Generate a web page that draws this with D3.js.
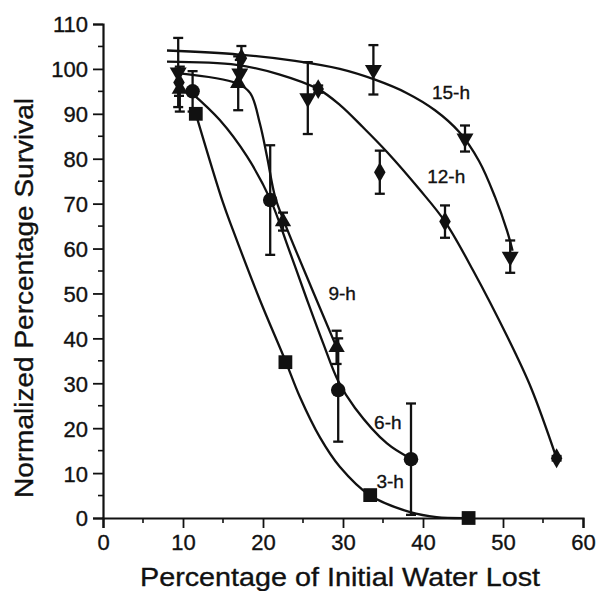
<!DOCTYPE html>
<html>
<head>
<meta charset="utf-8">
<script src="https://cdn.jsdelivr.net/npm/d3@7"></script>
<style>
  html, body { margin: 0; padding: 0; background: #fff; }
  svg { display: block; }
  text { font-family: "Liberation Sans", Arial, Helvetica, sans-serif; fill: #111; stroke: #111; stroke-width: 0.35px; }
</style>
</head>
<body>
<svg id="chart" width="598" height="591"></svg>
<script>
// Survival vs. water lost, by dehydration duration
const xTicks = [0, 10, 20, 30, 40, 50, 60];
const yTicks = [0, 10, 20, 30, 40, 50, 60, 70, 80, 90, 100, 110];

// 3-h (squares)
const x3h = [11.6, 22.8, 33.4, 45.7];
const y3h = [90, 34.7, 5.1, 0];
const e3h = [0, 0, 0, 0];
const cx3h = [11.6, 15, 16.25, 19.6, 22.8, 24.6, 27.1, 29.6, 33.4, 38.4, 41.7, 46];
const cy3h = [90, 70.2, 64.1, 48.6, 35, 27, 18, 11.4, 5, 1.3, 0.2, 0];

// 6-h (circles)
const x6h = [11.2, 20.9, 29.4, 38.5];
const y6h = [95, 70.8, 28.5, 13.1];
const e6h = [4.5, 12.2, 11.5, 12.4];
const cx6h = [11.1, 14.6, 18, 20.9, 23.2, 25.5, 27.5, 29.4, 31.5, 35.5, 38.4];
const cy6h = [94.6, 88.6, 80.5, 71, 60, 48.6, 39, 30.5, 24.5, 16.6, 13.3];

// 9-h (upward triangles)
const x9h = [9.6, 16.9, 22.5, 29.2];
const y9h = [95.5, 96.8, 66, 38];
const e9h = [5, 6, 2, 3.7];
const cx9h = [9.6, 16.7, 18.4, 19.6, 20.5, 21.5, 22.75, 26, 29.2];
const cy9h = [99, 96.8, 94.6, 87.9, 80.5, 71.6, 65.5, 51.5, 38];

// 12-h (diamonds)
const x12h = [9.5, 17.3, 26.9, 34.6, 42.75, 56.7];
const y12h = [97, 102.4, 95.5, 77, 66, 13.3];
const e12h = [3, 2.7, 0.8, 4.8, 3.6, 0.5];
const cx12h = [8, 16.7, 22, 26.9, 29.6, 32.5, 35.5, 39.5, 42.75, 46.3, 50.5, 53.5, 56.7];
const cy12h = [101.6, 100.9, 98.8, 95.5, 92, 87, 81.5, 73.3, 66, 55, 40.5, 29, 13.3];

// 15-h (downward triangles)
const x15h = [9.4, 17.1, 25.6, 33.8, 45.25, 50.9];
const y15h = [99.2, 99, 93.5, 99.8, 84.5, 58.2];
const e15h = [7.7, 3, 8, 5.5, 2.9, 3.6];
const cx15h = [8, 17, 24, 29.6, 34, 38, 41.5, 44.5, 47, 49, 50.5, 51.2];
const cy15h = [104.1, 103.2, 101.8, 100, 97.6, 94.6, 90.8, 86, 79.5, 71.5, 64, 59.5];

const seriesNames = ["3-h", "6-h", "9-h", "12-h", "15-h"];

// Build series table
const series = [
  { name: seriesNames[0], x: x3h, y: y3h, e: e3h, cx: cx3h, cy: cy3h, shape: "square" },
  { name: seriesNames[1], x: x6h, y: y6h, e: e6h, cx: cx6h, cy: cy6h, shape: "circle" },
  { name: seriesNames[2], x: x9h, y: y9h, e: e9h, cx: cx9h, cy: cy9h, shape: "up" },
  { name: seriesNames[3], x: x12h, y: y12h, e: e12h, cx: cx12h, cy: cy12h, shape: "diamond" },
  { name: seriesNames[4], x: x15h, y: y15h, e: e15h, cx: cx15h, cy: cy15h, shape: "down" }
];

// Where each curve's name sits (data units)
const labelPos = {
  "15-h": [43.5, 94.9],
  "12-h": [42.9, 76.2],
  "9-h": [29.9, 50.1],
  "6-h": [35.6, 21.4],
  "3-h": [35.9, 8.2]
};

const svg = d3.select("#chart");
const margin = { left: 103, top: 24 };

const x = d3.scaleLinear().domain([0, 60]).range([margin.left, margin.left + 480]);
const y = d3.scaleLinear().domain([0, 110]).range([margin.top + 494, margin.top]);

const ink = "#111";

// Axes with major ticks
const xAxis = d3.axisBottom(x).tickValues(xTicks).tickSize(10).tickPadding(5).tickFormat(d3.format("d"));
const yAxis = d3.axisLeft(y).tickValues(yTicks).tickSize(10).tickPadding(5).tickFormat(d3.format("d"));

const gx = svg.append("g").attr("transform", `translate(0,${y(0)})`).call(xAxis);
const gy = svg.append("g").attr("transform", `translate(${x(0)},0)`).call(yAxis);

[gx, gy].forEach(g => {
  g.select(".domain").attr("stroke", ink).attr("stroke-width", 2.2);
  g.selectAll(".tick line").attr("stroke", ink).attr("stroke-width", 1.8);
  g.selectAll(".tick text").attr("font-size", 22).attr("fill", ink)
    .style("font-family", '"Liberation Sans", Arial, sans-serif');
});
gx.selectAll(".tick text").attr("dy", "0.78em");
gy.selectAll(".tick text").attr("dy", "0.36em");

// Minor ticks at the halfway marks
const xMinor = d3.range(5, 60, 10);
const yMinor = d3.range(5, 110, 10);
svg.append("g").selectAll("line").data(xMinor).join("line")
  .attr("x1", d => x(d)).attr("x2", d => x(d))
  .attr("y1", y(0)).attr("y2", y(0) + 5)
  .attr("stroke", ink).attr("stroke-width", 1.6);
svg.append("g").selectAll("line").data(yMinor).join("line")
  .attr("y1", d => y(d)).attr("y2", d => y(d))
  .attr("x1", x(0)).attr("x2", x(0) - 5)
  .attr("stroke", ink).attr("stroke-width", 1.6);

// Axis titles
svg.append("text")
  .attr("x", 340).attr("y", 586)
  .attr("text-anchor", "middle")
  .attr("font-size", 26)
  .attr("textLength", 400)
  .attr("lengthAdjust", "spacingAndGlyphs")
  .text("Percentage of Initial Water Lost");

svg.append("text")
  .attr("transform", "translate(33,298) rotate(-90)")
  .attr("text-anchor", "middle")
  .attr("font-size", 26)
  .attr("textLength", 400)
  .attr("lengthAdjust", "spacingAndGlyphs")
  .text("Normalized Percentage Survival");

// Fitted curves
const line = d3.line().x(d => x(d[0])).y(d => y(d[1])).curve(d3.curveCatmullRom.alpha(0.5));
const plot = svg.append("g");
series.forEach(s => {
  const pts = s.cx.map((v, i) => [v, s.cy[i]]);
  plot.append("path").datum(pts)
    .attr("d", line)
    .attr("fill", "none")
    .attr("stroke", ink)
    .attr("stroke-width", 2.3);
});

// Error bars
const cap = 5;
series.forEach(s => {
  const pts = s.x.map((v, i) => ({ x: v, y: s.y[i], e: s.e[i] })).filter(d => d.e > 0);
  const g = plot.append("g").attr("stroke", ink).attr("stroke-width", 2.3);
  g.selectAll("line.v").data(pts).join("line").attr("class", "v")
    .attr("x1", d => x(d.x)).attr("x2", d => x(d.x))
    .attr("y1", d => y(d.y - d.e)).attr("y2", d => y(d.y + d.e));
  g.selectAll("line.t").data(pts).join("line").attr("class", "t")
    .attr("x1", d => x(d.x) - cap).attr("x2", d => x(d.x) + cap)
    .attr("y1", d => y(d.y + d.e)).attr("y2", d => y(d.y + d.e));
  g.selectAll("line.b").data(pts).join("line").attr("class", "b")
    .attr("x1", d => x(d.x) - cap).attr("x2", d => x(d.x) + cap)
    .attr("y1", d => y(d.y - d.e)).attr("y2", d => y(d.y - d.e));
});

// Markers
const symbolFor = {
  square: { type: d3.symbolSquare, size: 190, rot: 0 },
  circle: { type: d3.symbolCircle, size: 165, rot: 0 },
  up: { type: d3.symbolTriangle, size: 115, rot: 0 },
  diamond: { type: d3.symbolDiamond, size: 115, rot: 0 },
  down: { type: d3.symbolTriangle, size: 125, rot: 180 }
};
series.forEach(s => {
  const sym = symbolFor[s.shape];
  const pts = s.x.map((v, i) => [v, s.y[i]]);
  plot.append("g").selectAll("path").data(pts).join("path")
    .attr("transform", d => `translate(${x(d[0])},${y(d[1])}) rotate(${sym.rot})`)
    .attr("d", d3.symbol().type(sym.type).size(sym.size))
    .attr("fill", ink);
});

// Curve names
series.forEach(s => {
  const p = labelPos[s.name];
  svg.append("text")
    .attr("x", x(p[0])).attr("y", y(p[1]))
    .attr("dy", "0.36em")
    .attr("text-anchor", "middle")
    .attr("font-size", 19)
    .text(s.name);
});
</script>
</body>
</html>
